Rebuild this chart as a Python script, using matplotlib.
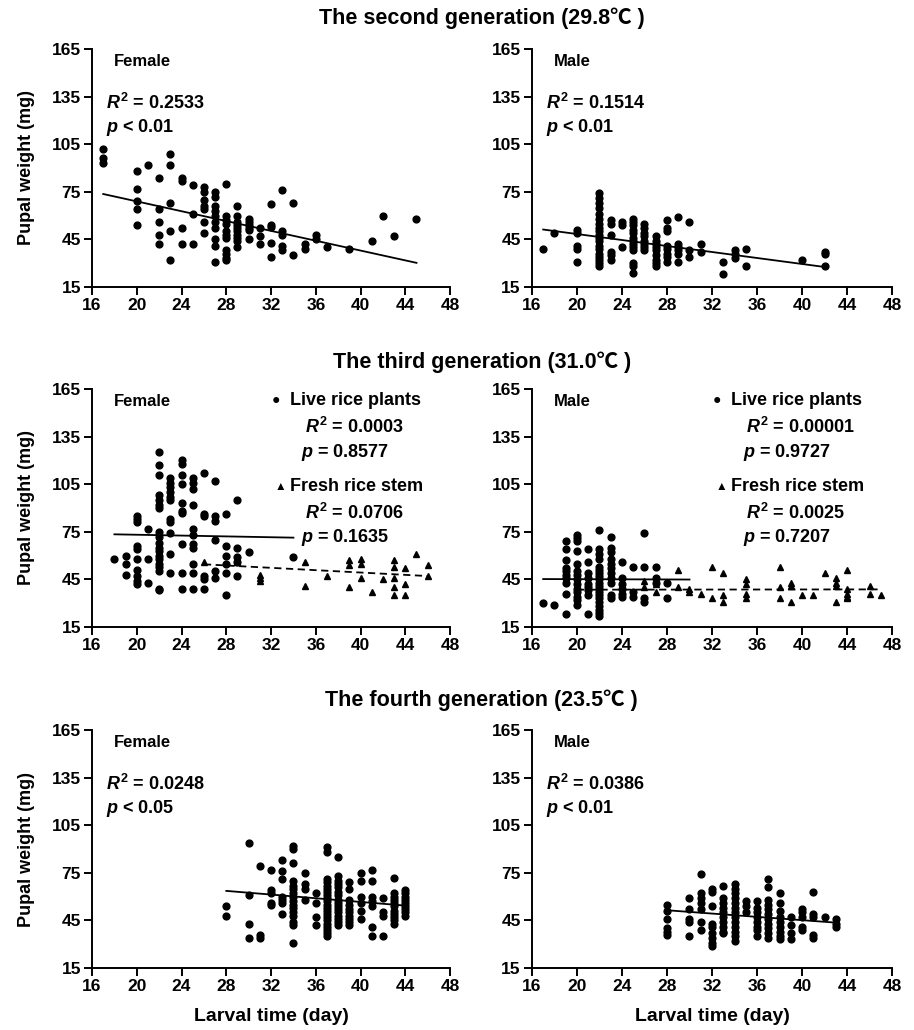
import matplotlib.pyplot as plt
import numpy as np

# ---- data (day -> pupal weights, mg) ----
g2_female = {17: [102, 96, 93], 20: [88, 77, 69, 64, 54], 21: [92], 22: [84, 64, 56, 48, 42],
             23: [99, 92, 68, 50, 32], 24: [84, 82, 52, 42], 25: [79, 61, 42],
             26: [78, 75, 70, 66, 64, 56, 49], 27: [75, 72, 66, 63, 60, 56, 52, 45, 41, 31],
             28: [80, 60, 57, 55, 50, 48, 46, 38, 36, 33, 32],
             29: [66, 60, 56, 54, 52, 50, 48, 46, 44, 40], 30: [58, 56, 54, 52, 51, 45],
             31: [52, 47, 42], 32: [67, 54, 53, 43, 34], 33: [76, 50, 48, 41, 38], 34: [68, 35],
             35: [42, 39], 36: [48, 45], 37: [40], 39: [39], 41: [44], 42: [60], 43: [47], 45: [58]}
g2_male = {17: [39], 18: [49], 20: [51, 49, 41, 39, 31],
           22: [74, 71, 68, 65, 61, 58, 55, 52, 50, 48, 46, 44, 41, 39, 36, 34, 32, 30, 28],
           23: [57, 55, 48, 37, 35, 32], 24: [56, 54, 40],
           25: [58, 56, 54, 51, 49, 46, 44, 42, 40, 38, 30, 28, 24],
           26: [55, 52, 49, 47, 44, 42, 40, 38], 27: [47, 44, 42, 40, 38, 35, 32, 30, 28],
           28: [57, 52, 50, 41, 39, 36, 34, 31], 29: [59, 42, 40, 38, 36, 31], 30: [56, 38, 34],
           31: [42, 37], 33: [31, 23], 34: [38, 36, 33], 35: [39, 28], 40: [32], 42: [37, 36, 28]}

g3_female_live = {18: [58], 19: [60, 55, 48], 20: [85, 83, 81, 66, 64, 58, 51, 47, 44, 42],
                  21: [77, 58, 43],
                  22: [125, 117, 111, 98, 95, 92, 90, 75, 72, 68, 65, 63, 60, 58, 55, 53, 50, 39, 38],
                  23: [109, 106, 103, 100, 97, 95, 83, 81, 74, 61, 49],
                  24: [120, 118, 111, 105, 93, 88, 87, 67, 49, 39],
                  25: [109, 106, 102, 92, 77, 73, 67, 65, 55, 49, 39],
                  26: [112, 86, 85, 47, 45, 39], 27: [107, 85, 82, 70, 50, 46],
                  28: [86, 66, 60, 55, 49, 35], 29: [95, 65, 59, 56, 47], 30: [62], 34: [59]}
g3_female_stem = {26: [56], 27: [48, 47], 29: [56], 31: [48, 46, 44], 35: [56, 41], 37: [47],
                  39: [57, 54, 40], 40: [58, 55, 46], 41: [37], 42: [45], 43: [57, 53, 46, 40, 35],
                  44: [52, 42, 35], 45: [61], 46: [54, 47]}
g3_male_live = {17: [30], 18: [29], 19: [69, 64, 57, 52, 50, 48, 46, 43, 36, 23],
                20: [73, 71, 69, 63, 55, 50, 48, 45, 42, 39, 37, 34, 32, 29],
                21: [64, 56, 49, 46, 42, 40, 38, 35, 23],
                22: [76, 64, 61, 58, 53, 51, 49, 47, 45, 43, 41, 39, 37, 35, 33, 31, 28, 26, 24, 22],
                23: [72, 65, 62, 58, 55, 52, 49, 46, 43, 35, 33], 24: [56, 46, 42, 39, 36, 34],
                25: [53, 37, 34], 26: [74, 53, 33, 31], 27: [53, 46, 43], 28: [43, 33]}
g3_male_stem = {26: [44, 40], 27: [42, 37], 29: [51, 40], 30: [39, 37], 31: [36], 32: [53, 33],
                33: [49, 35, 31], 35: [45, 42, 36, 33], 38: [53, 40, 33], 39: [43, 41, 31],
                40: [35], 41: [35], 42: [49], 43: [46, 43, 41, 31], 44: [51, 39, 36, 34, 33],
                46: [41, 36], 47: [35]}

g4_female = {28: [54, 48], 30: [94, 61, 43, 34], 31: [79, 36, 34], 32: [77, 64, 62, 56, 55],
             33: [83, 76, 71, 60, 58, 56, 49],
             34: [92, 90, 81, 70, 67, 65, 62, 60, 57, 55, 53, 50, 48, 44, 42, 31],
             35: [75, 68, 65, 58], 36: [62, 56, 47, 42],
             37: [91, 88, 71, 69, 67, 65, 63, 61, 59, 57, 55, 53, 51, 49, 47, 45, 43, 41, 39, 37, 35],
             38: [85, 73, 70, 68, 66, 63, 61, 58, 56, 54, 52, 50, 48, 46, 44, 42],
             39: [69, 65, 58, 55, 52, 50, 48, 46, 44, 42], 40: [75, 70, 60, 56, 51, 46],
             41: [77, 70, 60, 57, 54, 41, 35], 42: [59, 50, 48, 35],
             43: [72, 62, 60, 58, 56, 54, 51, 49, 47, 45, 43], 44: [64, 62, 60, 58, 56, 54, 52, 50, 48]}
g4_male = {28: [55, 51, 46, 40, 38, 36], 30: [59, 52, 46, 44, 35],
           31: [74, 62, 59, 56, 52, 44, 39], 32: [65, 63, 54, 43, 41, 37, 34, 31, 29],
           33: [67, 59, 56, 53, 50, 47, 44, 41, 38, 37],
           34: [68, 65, 62, 59, 56, 53, 50, 47, 44, 41, 38, 35, 32], 35: [57, 54, 50],
           36: [57, 53, 50, 47, 44, 41, 39, 35], 37: [71, 66, 58, 55, 52, 49, 46, 43, 40, 37, 34],
           38: [62, 56, 51, 47, 44, 41, 38, 35, 33], 39: [47, 42, 37, 33],
           40: [52, 50, 47, 41, 39], 41: [63, 49, 47, 36, 34], 42: [47], 43: [46, 43, 41]}

# regression lines: (x start, x end, slope, intercept)
fit_g2_female = (17, 45, -1.55, 99.95)
fit_g2_male = (17, 42, -0.944, 67.25)
fit_g3_female_live = (18, 34, -0.131, 75.76)
fit_g3_female_stem = (26, 46, -0.37, 64.12)
fit_g3_male_live = (17, 30, -0.023, 45.59)
fit_g3_male_stem = (20, 47, 0.007, 38.36)
fit_g4_female = (28, 44, -0.58, 79.85)
fit_g4_male = (28, 43, -0.52, 65.96)

titles = ['The second generation (29.8\u2103 )', 'The third generation (31.0\u2103 )',
          'The fourth generation (23.5\u2103 )']
stats = {'g2_female': ('0.2533', '< 0.01'), 'g2_male': ('0.1514', '< 0.01'),
         'g4_female': ('0.0248', '< 0.05'), 'g4_male': ('0.0386', '< 0.01')}
stats_g3_female = (('0.0003', '= 0.8577'), ('0.0706', '= 0.1635'))
stats_g3_male = (('0.00001', '= 0.9727'), ('0.0025', '= 0.7207'))

plt.rcParams['font.family'] = ['Liberation Sans', 'Noto Sans CJK SC', 'DejaVu Sans']
plt.rcParams['font.weight'] = 'bold'
plt.rcParams['mathtext.fontset'] = 'custom'
plt.rcParams['mathtext.it'] = 'Liberation Sans:italic:bold'
plt.rcParams['mathtext.rm'] = 'Liberation Sans:bold'
plt.rcParams['mathtext.bf'] = 'Liberation Sans:bold'

TXT = 13


def expand(d):
    xs, ys = [], []
    for day, ws in d.items():
        xs += [day] * len(ws)
        ys += ws
    return np.array(xs), np.array(ys)


def fit_line(ax, fit, ls='-'):
    x0, x1, m, b = fit
    xx = np.array([x0, x1])
    ax.plot(xx, m * xx + b, color='black', lw=1.3, ls=ls, zorder=2)


def style(ax, bottom_row, left_col):
    ax.set_xlim(16, 48)
    ax.set_ylim(15, 165)
    ax.set_xticks(np.arange(16, 49, 4))
    ax.set_yticks(np.arange(15, 166, 30))
    for s in ['top', 'right']:
        ax.spines[s].set_visible(False)
    for s in ['left', 'bottom']:
        ax.spines[s].set_linewidth(1.4)
    ax.tick_params(direction='out', length=6, width=1.4, labelsize=12.5, pad=2)
    for lab in ax.get_xticklabels() + ax.get_yticklabels():
        lab.set_fontweight('bold')
    if left_col:
        ax.set_ylabel('Pupal weight (mg)', fontsize=13, fontweight='bold', labelpad=12)
    if bottom_row:
        ax.set_xlabel('Larval time (day)', fontsize=14, fontweight='bold', labelpad=10)


fig = plt.figure(figsize=(9.14, 10.30), dpi=100)
lefts = [0.1007, 0.582]
widths = [0.3917, 0.394]
bottoms = [0.7214, 0.3913, 0.0602]
height = 0.231
title_y = [0.9825, 0.6485, 0.3204]

axes = [[fig.add_axes([lefts[c], bottoms[r], widths[c], height]) for c in range(2)] for r in range(3)]
for r in range(3):
    fig.text(0.527, title_y[r], titles[r], ha='center', va='center', fontsize=15.5, fontweight='bold')

ms = 4.9
# row 1 and row 3: single series
for r, (fdata, mdata, ffit, mfit, fkey, mkey) in [
        (0, (g2_female, g2_male, fit_g2_female, fit_g2_male, 'g2_female', 'g2_male')),
        (2, (g4_female, g4_male, fit_g4_female, fit_g4_male, 'g4_female', 'g4_male'))]:
    for c, (data, fit, key, sex) in enumerate([(fdata, ffit, fkey, 'Female'), (mdata, mfit, mkey, 'Male')]):
        ax = axes[r][c]
        x, y = expand(data)
        ax.plot(x, y, 'o', color='black', ms=ms, zorder=3)
        fit_line(ax, fit)
        r2, p = stats[key]
        ax.text(0.062, 0.947, sex, transform=ax.transAxes, fontsize=12, fontweight='bold', va='center')
        ax.text(0.04, 0.775, r'$R^2$ = ' + r2, transform=ax.transAxes, fontsize=TXT, va='center')
        ax.text(0.04, 0.672, r'$p$ ' + p, transform=ax.transAxes, fontsize=TXT, va='center')
        style(ax, r == 2, c == 0)

# row 2: two diets
for c, (live, stem, flive, fstem, st, sex) in enumerate([
        (g3_female_live, g3_female_stem, fit_g3_female_live, fit_g3_female_stem, stats_g3_female, 'Female'),
        (g3_male_live, g3_male_stem, fit_g3_male_live, fit_g3_male_stem, stats_g3_male, 'Male')]):
    ax = axes[1][c]
    x, y = expand(live)
    ax.plot(x, y, 'o', color='black', ms=ms, zorder=3)
    x, y = expand(stem)
    ax.plot(x, y, '^', color='black', ms=ms, zorder=3)
    fit_line(ax, flive)
    fit_line(ax, fstem, ls=(0, (4, 2.5)))
    ax.text(0.062, 0.947, sex, transform=ax.transAxes, fontsize=12, fontweight='bold', va='center')
    ax.text(0.503, 0.952, '\u25cf', transform=ax.transAxes, fontsize=10, va='center')
    ax.text(0.553, 0.952, 'Live rice plants', transform=ax.transAxes, fontsize=TXT, va='center')
    ax.text(0.595, 0.84, r'$R^2$ = ' + st[0][0], transform=ax.transAxes, fontsize=TXT, va='center')
    ax.text(0.585, 0.735, r'$p$ ' + st[0][1], transform=ax.transAxes, fontsize=TXT, va='center')
    ax.text(0.51, 0.59, '\u25b2', transform=ax.transAxes, fontsize=8.5, va='center')
    ax.text(0.553, 0.59, 'Fresh rice stem', transform=ax.transAxes, fontsize=TXT, va='center')
    ax.text(0.595, 0.478, r'$R^2$ = ' + st[1][0], transform=ax.transAxes, fontsize=TXT, va='center')
    ax.text(0.585, 0.374, r'$p$ ' + st[1][1], transform=ax.transAxes, fontsize=TXT, va='center')
    style(ax, False, c == 0)

fig.savefig('out.png', dpi=100)
